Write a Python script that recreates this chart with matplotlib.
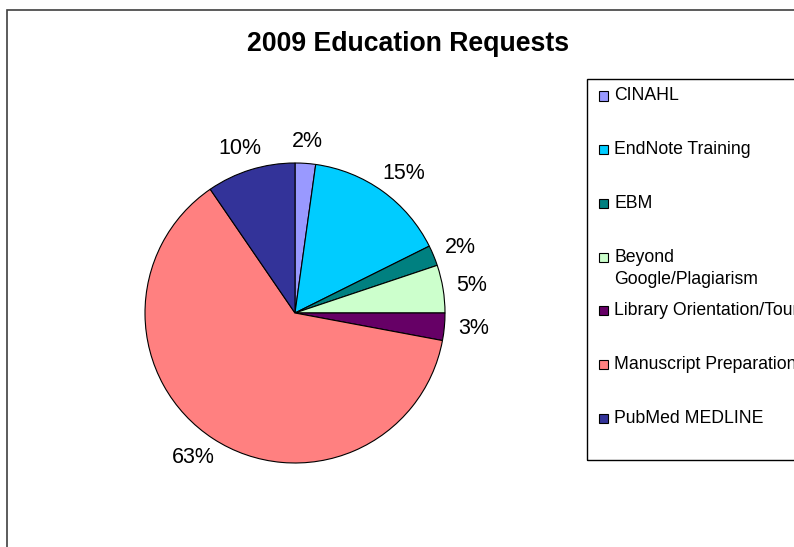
import numpy as np
import matplotlib.pyplot as plt
from matplotlib.patches import Rectangle

plt.rcParams['font.family'] = ['Liberation Sans', 'DejaVu Sans']

# request counts per course
categories = ["CINAHL", "EndNote Training", "EBM", "Beyond\nGoogle/Plagiarism",
              "Library Orientation/Tour", "Manuscript Preparation", "PubMed MEDLINE"]
counts = [3, 21, 3, 7, 4, 85, 13]
pct_labels = ["2%", "15%", "2%", "5%", "3%", "63%", "10%"]
colors = ["#9999FF", "#00CCFF", "#008080", "#CCFFCC", "#660066", "#FF8080", "#333399"]

W, H = 794, 547
fig = plt.figure(figsize=(W / 100, H / 100), dpi=100)

# outer chart frame (runs off the right and bottom edge)
fig.patches.append(Rectangle((7 / W, -0.1), 1.2, 1 - 10 / H + 0.1, transform=fig.transFigure,
                             fill=False, edgecolor="#404040", linewidth=1.2))

fig.text(408 / W, 1 - 44 / H, "2009 Education Requests", ha="center", va="center",
         fontsize=19.2, fontweight="bold")

# pie: centre (295, 313) px, radius 150 px
cx, cy, R = 295, 313, 150
half = 225
ax = fig.add_axes([(cx - half) / W, (H - cy - half) / H, 2 * half / W, 2 * half / H])

wedges, _ = ax.pie(counts, colors=colors, startangle=90, counterclock=False,
                   radius=1.0, wedgeprops=dict(edgecolor="black", linewidth=0.8))
ax.set_xlim(-1.5, 1.5)
ax.set_ylim(-1.5, 1.5)
ax.axis("off")

fig.canvas.draw()
renderer = fig.canvas.get_renderer()
ppu = R  # pixels per data unit
gap = 14 / ppu
for w, lab in zip(wedges, pct_labels):
    th = np.deg2rad((w.theta1 + w.theta2) / 2)
    dx, dy = np.cos(th), np.sin(th)
    t = ax.text(0, 0, lab, ha="center", va="center", fontsize=15.5)
    bb = t.get_window_extent(renderer)
    tw, tht = bb.width / ppu, (bb.height * 0.75) / ppu
    t.set_position(((1 + gap) * dx + dx * tw / 2, (1 + gap) * dy + dy * tht / 2))

# legend box drawn by hand to keep Excel's even row spacing
lx0, ly0, ly1 = 587, 79, 460
fig.patches.append(Rectangle((lx0 / W, 1 - ly1 / H), 1.0, (ly1 - ly0) / H,
                             transform=fig.transFigure, fill=False,
                             edgecolor="black", linewidth=1.0))
row0, step = 96, 53.7
for i, (name, col) in enumerate(zip(categories, colors)):
    y = row0 + i * step
    fig.patches.append(Rectangle((599 / W, 1 - (y + 4.5) / H), 9 / W, 9 / H,
                                 transform=fig.transFigure, facecolor=col,
                                 edgecolor="black", linewidth=0.8))
    lines = name.split("\n")
    for j, ln in enumerate(lines):
        fig.text(614 / W, 1 - (y + j * 22) / H, ln, ha="left", va="center", fontsize=12.7)

fig.savefig("out.png", dpi=100)
